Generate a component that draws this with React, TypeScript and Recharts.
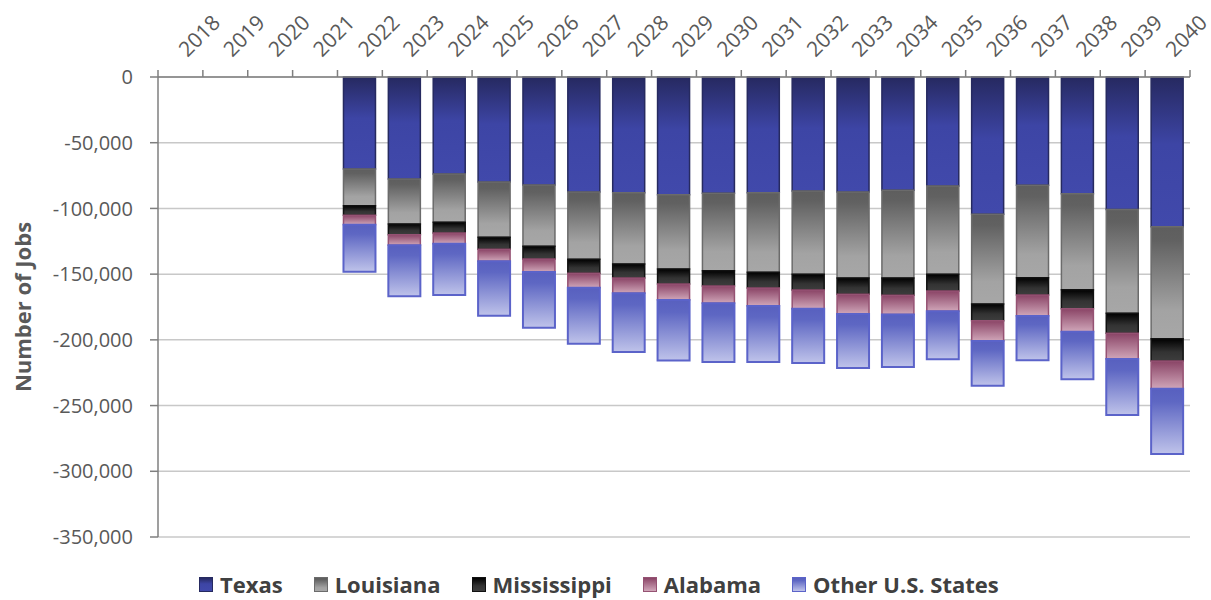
import React from "react";
import { BarChart, Bar, XAxis, YAxis, CartesianGrid } from "recharts";

// Job change by state, 2018-2040 (negative = jobs lost)
const years = [
  "2018", "2019", "2020", "2021", "2022", "2023", "2024", "2025", "2026", "2027", "2028",
  "2029", "2030", "2031", "2032", "2033", "2034", "2035", "2036", "2037", "2038", "2039", "2040",
];

const texas = [
  null, null, null, null, -70000, -77600, -73800, -79900, -82200, -87500, -88000,
  -89500, -88500, -88000, -86700, -87500, -86200, -82900, -104500, -82400, -88800, -100900, -113900,
];
const louisiana = [
  null, null, null, null, -27900, -34200, -36800, -42100, -46600, -51200, -54300,
  -56600, -58900, -60600, -63400, -65400, -66700, -67200, -68200, -70300, -73000, -78900, -85200,
];
const mississippi = [
  null, null, null, null, -7300, -8200, -8100, -9100, -9700, -10700, -10600,
  -11400, -11600, -11900, -12000, -12400, -13200, -12700, -12700, -13200, -14500, -15200, -17000,
];
const alabama = [
  null, null, null, null, -7200, -8100, -8100, -9100, -9900, -10900, -11700,
  -12200, -13200, -13700, -14200, -15000, -14700, -15500, -15500, -15900, -17500, -19600, -21100,
];
const otherStates = [
  null, null, null, null, -35700, -38800, -39100, -41400, -42300, -42600, -44600,
  -46100, -44600, -42600, -41300, -41100, -39800, -36500, -34000, -33800, -36200, -42600, -49600,
];

const yTicks = [0, -50000, -100000, -150000, -200000, -250000, -300000, -350000];

const series = [
  { key: "texas", name: "Texas", values: texas, stroke: "#262a60", stops: [["0%", "#262960"], ["45%", "#3d45a5"], ["100%", "#4149ab"]] },
  { key: "louisiana", name: "Louisiana", values: louisiana, stroke: "#6b6b6b", stops: [["0%", "#5e5e5e"], ["12%", "#616161"], ["75%", "#a3a3a3"], ["100%", "#a7a7a7"]] },
  { key: "mississippi", name: "Mississippi", values: mississippi, stroke: "#111111", stops: [["0%", "#000000"], ["60%", "#333333"], ["100%", "#3d3d3d"]] },
  { key: "alabama", name: "Alabama", values: alabama, stroke: "#955273", stops: [["0%", "#8a4466"], ["100%", "#d0a6b9"]] },
  { key: "other", name: "Other U.S. States", values: otherStates, stroke: "#5b63c9", stops: [["0%", "#5860bf"], ["20%", "#5e67c3"], ["100%", "#bfc3ea"]] },
];

const data = years.map((year, i) => {
  const row: Record<string, any> = { year };
  series.forEach((s) => {
    row[s.key] = s.values[i];
  });
  return row;
});

const FONT = "'Open Sans', sans-serif";
const TEXT = "#595959";

const YearTick = (props: any) => {
  const { x, y, payload, index, visibleTicksCount } = props;
  const half = payload.offset || 0;
  const tx = x + 7;
  const ty = y - 12;
  return (
    <g>
      <line x1={x - half} x2={x - half} y1={y} y2={y + 7} stroke="#7f7f7f" strokeWidth={1.5} />
      {index === visibleTicksCount - 1 && (
        <line x1={x + half} x2={x + half} y1={y} y2={y + 7} stroke="#7f7f7f" strokeWidth={1.5} />
      )}
      <text
        x={tx}
        y={ty}
        transform={`rotate(-45, ${tx}, ${ty})`}
        textAnchor="start"
        fill={TEXT}
        fontSize={21}
        fontFamily={FONT}
      >
        {payload.value}
      </text>
    </g>
  );
};

const gradientCss = (stops: string[][]) =>
  `linear-gradient(to bottom, ${stops.map(([o, c]) => `${c} ${o}`).join(", ")})`;

export default function App() {
  return (
    <div style={{ position: "absolute", left: 0, top: 0, width: 1211, height: 600, background: "#fff" }}>
      <BarChart
        width={1211}
        height={600}
        data={data}
        margin={{ top: 0, right: 21, bottom: 63, left: 0 }}
        barSize={32}
      >
        <defs>
          {series.map((s) => (
            <linearGradient key={s.key} id={`grad-${s.key}`} x1="0" y1="0" x2="0" y2="1">
              {s.stops.map(([o, c]) => (
                <stop key={o} offset={o} stopColor={c} />
              ))}
            </linearGradient>
          ))}
        </defs>
        <CartesianGrid vertical={false} stroke="#c8c8c8" strokeWidth={1.5} />
        <XAxis
          dataKey="year"
          orientation="top"
          height={77}
          interval={0}
          tickSize={7}
          tickMargin={0}
          tickLine={false}
          axisLine={{ stroke: "#7f7f7f", strokeWidth: 1.5 }}
          tick={<YearTick />}
        />
        <YAxis
          width={158}
          domain={[-350000, 0]}
          ticks={yTicks}
          interval={0}
          tickSize={8}
          tickMargin={17}
          tickFormatter={(v: number) => v.toLocaleString("en-US")}
          tick={{ fill: TEXT, fontSize: 20, fontFamily: FONT }}
          tickLine={{ stroke: "#7f7f7f", strokeWidth: 1.5 }}
          axisLine={{ stroke: "#7f7f7f", strokeWidth: 1.5 }}
        />
        {series.map((s) => (
          <Bar
            key={s.key}
            dataKey={s.key}
            name={s.name}
            stackId="jobs"
            fill={`url(#grad-${s.key})`}
            stroke={s.stroke}
            strokeWidth={s.key === "other" ? 2 : 1.5}
            isAnimationActive={false}
          />
        ))}
      </BarChart>

      <div
        style={{
          position: "absolute",
          left: 22,
          top: 307,
          transform: "translate(-50%, -50%) rotate(-90deg)",
          whiteSpace: "nowrap",
          fontFamily: FONT,
          fontWeight: 700,
          fontSize: 22,
          color: TEXT,
        }}
      >
        Number of Jobs
      </div>

      <div
        style={{
          position: "absolute",
          left: 199,
          top: 571,
          display: "flex",
          alignItems: "center",
          gap: 31,
          fontFamily: FONT,
          fontWeight: 700,
          fontSize: 22,
          lineHeight: "26px",
          color: "#404040",
        }}
      >
        {series.map((s) => (
          <div key={s.key} style={{ display: "flex", alignItems: "center", gap: 7 }}>
            <span
              style={{
                display: "inline-block",
                width: 12,
                height: 13,
                background: gradientCss(s.stops),
                border: `1px solid ${s.stroke}`,
              }}
            />
            <span>{s.name}</span>
          </div>
        ))}
      </div>
    </div>
  );
}
